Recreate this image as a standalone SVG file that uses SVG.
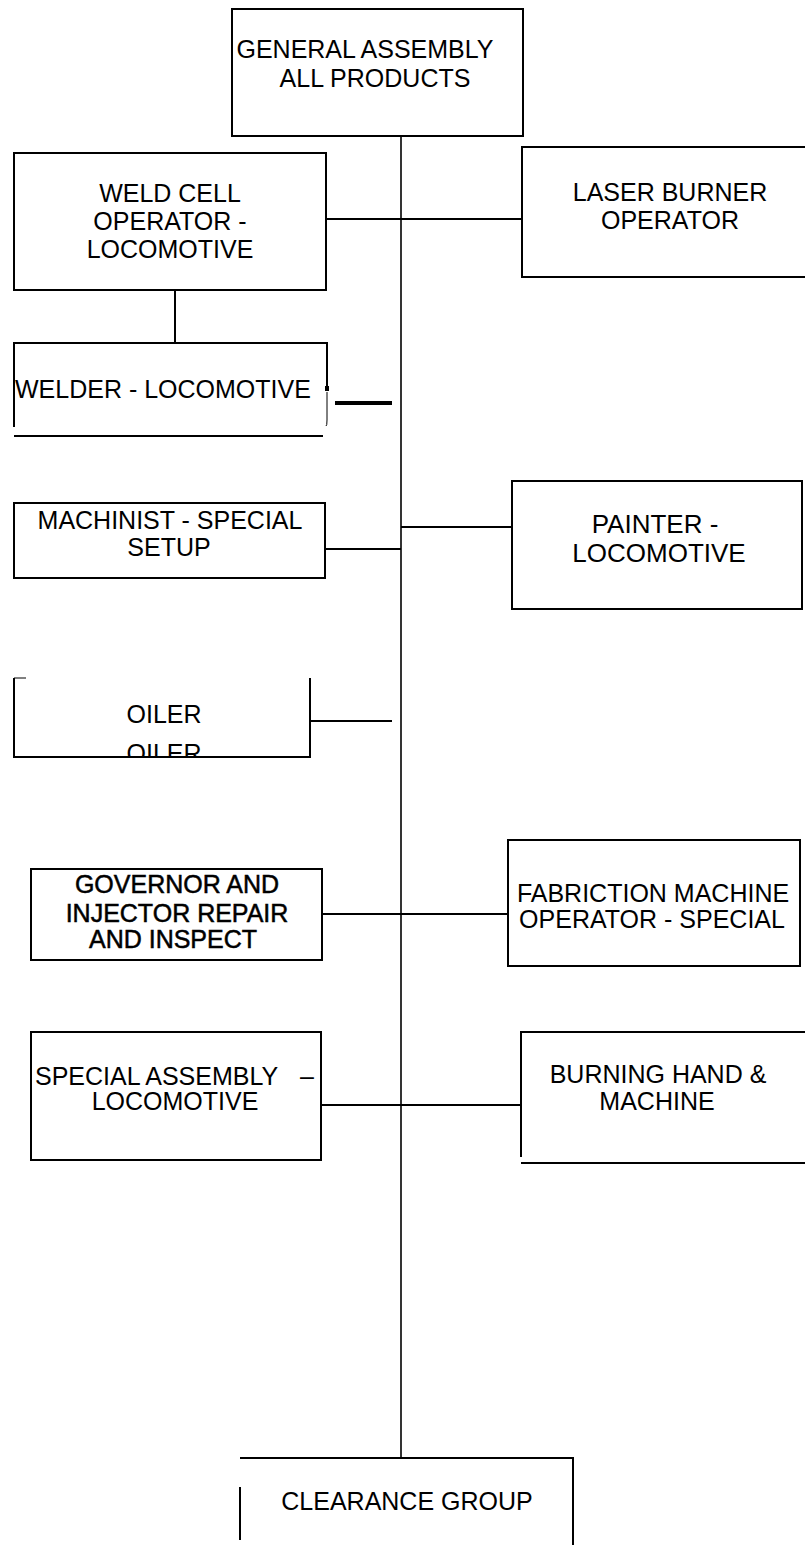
<svg xmlns="http://www.w3.org/2000/svg" width="805" height="1545" viewBox="0 0 805 1545">
<style>
.b{fill:none;stroke:#000;stroke-width:2}
.c{fill:none;stroke:#000;stroke-width:2}
.t{font-family:"Liberation Sans",Arial,sans-serif;font-size:25px;fill:#000}
.m{text-anchor:middle}
.bold{stroke:#000;stroke-width:0.5}
</style>
<defs>
<clipPath id="oilclip"><rect x="0" y="600" width="400" height="156"/></clipPath>
</defs>
<rect width="805" height="1545" fill="#fff"/>
<g id="connectors">
<line class="c" x1="401" y1="136" x2="401" y2="1458" style="stroke-width:1.6"/>
<line class="c" x1="326" y1="219" x2="522" y2="219"/>
<line class="c" x1="175" y1="290" x2="175" y2="343"/>
<line class="c" x1="335" y1="403" x2="392" y2="403" style="stroke-width:4"/>
<line class="c" x1="325" y1="549" x2="401" y2="549"/>
<line class="c" x1="401" y1="527" x2="512" y2="527"/>
<line class="c" x1="310" y1="721" x2="392" y2="721"/>
<line class="c" x1="322" y1="914" x2="508" y2="914"/>
<line class="c" x1="321" y1="1105" x2="521" y2="1105"/>
</g>
<g id="general-assembly">
<rect class="b" x="232" y="9" width="291" height="127"/>
<text class="t m" x="365" y="58">GENERAL ASSEMBLY</text>
<text class="t m" x="375" y="87">ALL PRODUCTS</text>
</g>
<g id="weld-cell">
<rect class="b" x="14" y="153" width="312" height="137"/>
<text class="t m" x="170" y="202">WELD CELL</text>
<text class="t m" x="170" y="230">OPERATOR -</text>
<text class="t m" x="170" y="258">LOCOMOTIVE</text>
</g>
<g id="laser-burner">
<rect class="b" x="522" y="147" width="290" height="130"/>
<text class="t m" x="670" y="201">LASER BURNER</text>
<text class="t m" x="670" y="229">OPERATOR</text>
</g>
<g id="welder">
<path class="b" d="M14,427 V343 H327 V388" />
<path d="M327,392 V420 q0,6 -1,6" style="fill:none;stroke:#000;stroke-width:1"/>
<path class="b" d="M14,436 H323"/>
<text class="t" x="15" y="398">WELDER - LOCOMOTIVE</text>
<rect x="325" y="386" width="4" height="5" fill="#000"/>
</g>
<g id="machinist">
<rect class="b" x="14" y="503" width="311" height="75"/>
<text class="t m" x="170" y="529">MACHINIST - SPECIAL</text>
<text class="t m" x="169" y="556">SETUP</text>
</g>
<g id="painter">
<rect class="b" x="512" y="481" width="290" height="128"/>
<text class="t m" x="655" y="533" style="font-size:26px">PAINTER -</text>
<text class="t m" x="659" y="562" style="font-size:26px">LOCOMOTIVE</text>
</g>
<g id="oiler">
<path class="b" d="M14,678 V757 H310 V678"/>
<line x1="14" y1="678" x2="26" y2="678" stroke="#000" stroke-width="1"/>
<text class="t m" x="164" y="723">OILER</text>
<text class="t m" x="164" y="762" clip-path="url(#oilclip)">OILER</text>
</g>
<g id="governor">
<rect class="b" x="31" y="869" width="291" height="91"/>
<text class="t m bold" x="177" y="893">GOVERNOR AND</text>
<text class="t m bold" x="177" y="922">INJECTOR REPAIR</text>
<text class="t m bold" x="173" y="948">AND INSPECT</text>
</g>
<g id="fabriction">
<rect class="b" x="508" y="840" width="292" height="126"/>
<text class="t m" x="653" y="902">FABRICTION MACHINE</text>
<text class="t m" x="652" y="928">OPERATOR - SPECIAL</text>
</g>
<g id="special-assembly">
<rect class="b" x="31" y="1032" width="290" height="128"/>
<text class="t" x="35" y="1085">SPECIAL ASSEMBLY <tspan x="300">–</tspan></text>
<text class="t m" x="175" y="1110">LOCOMOTIVE</text>
</g>
<g id="burning">
<path class="b" d="M806,1032 H521 V1157 M521,1163 H806"/>
<text class="t m" x="658" y="1083">BURNING HAND &amp;</text>
<text class="t m" x="657" y="1110">MACHINE</text>
</g>
<g id="clearance">
<path class="b" d="M240,1458 H573 V1545 M240,1487 V1540"/>
<text class="t m" x="407" y="1510">CLEARANCE GROUP</text>
</g>
</svg>
